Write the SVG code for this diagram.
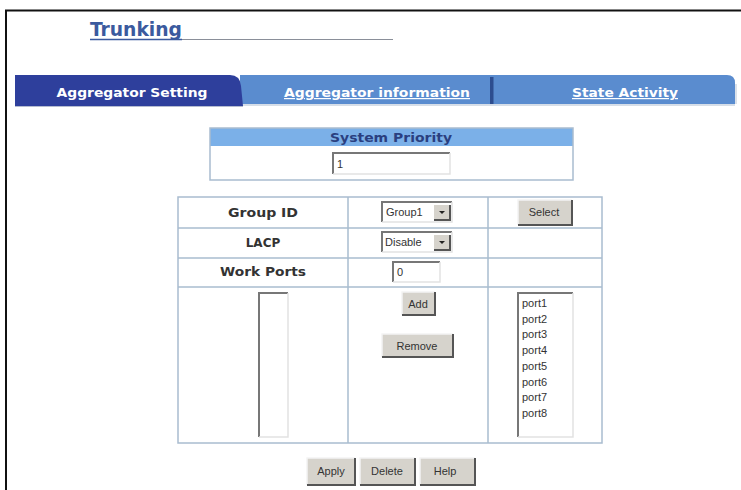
<svg xmlns="http://www.w3.org/2000/svg" width="741" height="490" viewBox="0 0 741 490">
<style>
.lbl{font-family:"DejaVu Sans",Verdana,sans-serif;font-weight:bold;font-size:12px;fill:#333;text-anchor:middle}
.tab{font-family:"DejaVu Sans",Verdana,sans-serif;font-weight:bold;font-size:12px;fill:#fff;text-anchor:middle}
.ui{font-family:"Liberation Sans",Arial,sans-serif;font-size:11px;fill:#333}
.uic{font-family:"Liberation Sans",Arial,sans-serif;font-size:11px;fill:#333;text-anchor:middle}
.grid{fill:none;stroke:#a9bccf;stroke-width:1.5}
.btnface{fill:#d6d3cc}
.hi{stroke:#f4f4f4;stroke-width:1.5;fill:none}
.sh{stroke:#555;stroke-width:2;fill:none}
.sunk{stroke:#777;stroke-width:2;fill:none}
.sunklt{stroke:#e2e2e2;stroke-width:1.5;fill:none}
</style>

<g id="frame">
<line x1="5" y1="10.5" x2="741" y2="10.5" stroke="#111" stroke-width="2"/>
<line x1="6" y1="10" x2="6" y2="490" stroke="#111" stroke-width="2"/>
</g>

<g id="title">
<text x="90" y="36" font-family="'DejaVu Sans Condensed','DejaVu Sans',sans-serif" font-weight="bold" font-size="19" fill="#3b5a9e" textLength="92" lengthAdjust="spacingAndGlyphs">Trunking</text>
<line x1="90" y1="39.5" x2="182" y2="39.5" stroke="#3b5a9e" stroke-width="1.5"/>
<line x1="182" y1="39.5" x2="393" y2="39.5" stroke="#8a8f99" stroke-width="1"/>
</g>

<g id="tabs">
<path d="M240 75 H727 Q735 75 735 83 V104 H240 Z" fill="#5a8ccf"/>
<line x1="240" y1="105" x2="735" y2="105" stroke="#c9d3e0" stroke-width="1.5"/>
<line x1="736" y1="84" x2="736" y2="104" stroke="#b8c4d4" stroke-width="1"/>
<rect x="490" y="77" width="3.5" height="27" fill="#2d4d8f"/>
<path d="M15 75 H230 Q240 75 241 86 L243 106 H15 Z" fill="#2e3f9c"/>
<line x1="15" y1="106.5" x2="243" y2="106.5" stroke="#b5bcd0" stroke-width="1"/>
<text class="tab" x="132" y="97" textLength="151" lengthAdjust="spacingAndGlyphs">Aggregator Setting</text>
<text class="tab" x="377" y="97" textLength="186" lengthAdjust="spacingAndGlyphs" text-decoration="underline">Aggregator information</text>
<text class="tab" x="625" y="97" textLength="106" lengthAdjust="spacingAndGlyphs" text-decoration="underline">State Activity</text>
</g>

<g id="system-priority">
<rect x="210" y="128" width="363" height="18" fill="#7bb0e8"/>
<rect x="210" y="128" width="363" height="52" class="grid"/>
<text class="lbl" x="391" y="142" fill="#2a3f80" style="fill:#2a3f80" textLength="122" lengthAdjust="spacingAndGlyphs">System Priority</text>
<rect x="333" y="153" width="117" height="21" fill="#fff"/>
<polyline points="333,174 333,153 450,153" class="sunk"/>
<polyline points="450,153 450,174 333,174" class="sunklt"/>
<text class="ui" x="337" y="168">1</text>
</g>

<g id="main-table">
<rect x="178" y="197" width="424" height="246" class="grid"/>
<line x1="348" y1="197" x2="348" y2="443" class="grid"/>
<line x1="488" y1="197" x2="488" y2="443" class="grid"/>
<line x1="178" y1="228" x2="602" y2="228" class="grid"/>
<line x1="178" y1="258" x2="602" y2="258" class="grid"/>
<line x1="178" y1="287" x2="602" y2="287" class="grid"/>
</g>

<g id="group-id">
<text class="lbl" x="263" y="217" textLength="70" lengthAdjust="spacingAndGlyphs">Group ID</text>
<rect x="382" y="202" width="70" height="20" fill="#fff"/>
<polyline points="382,222 382,202 452,202" class="sunk"/>
<polyline points="452,202 452,222 382,222" class="sunklt"/>
<text class="ui" x="386" y="216">Group1</text>
<rect x="434" y="205" width="16" height="15" class="btnface"/>
<polyline points="434,220 450,220 450,205" class="sh" stroke-width="1.2"/>
<path d="M439 211 h6 l-3 3 z" fill="#222"/>
</g>

<g id="select-btn">
<rect x="518" y="200" width="54" height="25" class="btnface"/>
<polyline points="518,225 518,200 572,200" class="hi"/>
<polyline points="518,225 572,225 572,200" class="sh"/>
<text class="uic" x="544" y="216">Select</text>
</g>

<g id="lacp">
<text class="lbl" x="263" y="247">LACP</text>
<rect x="382" y="232" width="70" height="20" fill="#fff"/>
<polyline points="382,252 382,232 452,232" class="sunk"/>
<polyline points="452,232 452,252 382,252" class="sunklt"/>
<text class="ui" x="385" y="246">Disable</text>
<rect x="434" y="235" width="16" height="15" class="btnface"/>
<polyline points="434,250 450,250 450,235" class="sh" stroke-width="1.2"/>
<path d="M439 241 h6 l-3 3 z" fill="#222"/>
</g>

<g id="work-ports">
<text class="lbl" x="263" y="276" textLength="86" lengthAdjust="spacingAndGlyphs">Work Ports</text>
<rect x="393" y="262" width="47" height="20" fill="#fff"/>
<polyline points="393,282 393,262 440,262" class="sunk"/>
<polyline points="440,262 440,282 393,282" class="sunklt"/>
<text class="ui" x="397" y="276">0</text>
</g>

<g id="left-list">
<rect x="258" y="292" width="30" height="145" fill="#fff"/>
<polyline points="259,437 259,293 288,293" class="sunk"/>
<polyline points="288,293 288,437 259,437" class="sunklt"/>
</g>

<g id="add-btn">
<rect x="402" y="292" width="33" height="23" class="btnface"/>
<polyline points="402,315 402,292 435,292" class="hi"/>
<polyline points="402,315 435,315 435,292" class="sh"/>
<text class="uic" x="418" y="308">Add</text>
</g>

<g id="remove-btn">
<rect x="382" y="334" width="71" height="23" class="btnface"/>
<polyline points="382,357 382,334 453,334" class="hi"/>
<polyline points="382,357 453,357 453,334" class="sh"/>
<text class="uic" x="417" y="350">Remove</text>
</g>

<g id="port-list">
<rect x="517" y="292" width="56" height="145" fill="#fff"/>
<polyline points="518,437 518,293 573,293" class="sunk"/>
<polyline points="573,293 573,437 518,437" class="sunklt"/>
<text class="ui" x="522" y="307">port1</text>
<text class="ui" x="522" y="322.7">port2</text>
<text class="ui" x="522" y="338.4">port3</text>
<text class="ui" x="522" y="354.1">port4</text>
<text class="ui" x="522" y="369.8">port5</text>
<text class="ui" x="522" y="385.5">port6</text>
<text class="ui" x="522" y="401.2">port7</text>
<text class="ui" x="522" y="417">port8</text>
</g>

<g id="apply-btn">
<rect x="307" y="458" width="48" height="27" class="btnface"/>
<polyline points="307,485 307,458 355,458" class="hi"/>
<polyline points="307,485 355,485 355,458" class="sh"/>
<text class="uic" x="331" y="475">Apply</text>
</g>

<g id="delete-btn">
<rect x="360" y="458" width="55" height="27" class="btnface"/>
<polyline points="360,485 360,458 415,458" class="hi"/>
<polyline points="360,485 415,485 415,458" class="sh"/>
<text class="uic" x="387" y="475">Delete</text>
</g>

<g id="help-btn">
<rect x="420" y="458" width="55" height="27" class="btnface"/>
<polyline points="420,485 420,458 475,458" class="hi"/>
<polyline points="420,485 475,485 475,458" class="sh"/>
<text class="uic" x="445" y="475">Help</text>
</g>

<g id="connectors"></g>
</svg>
